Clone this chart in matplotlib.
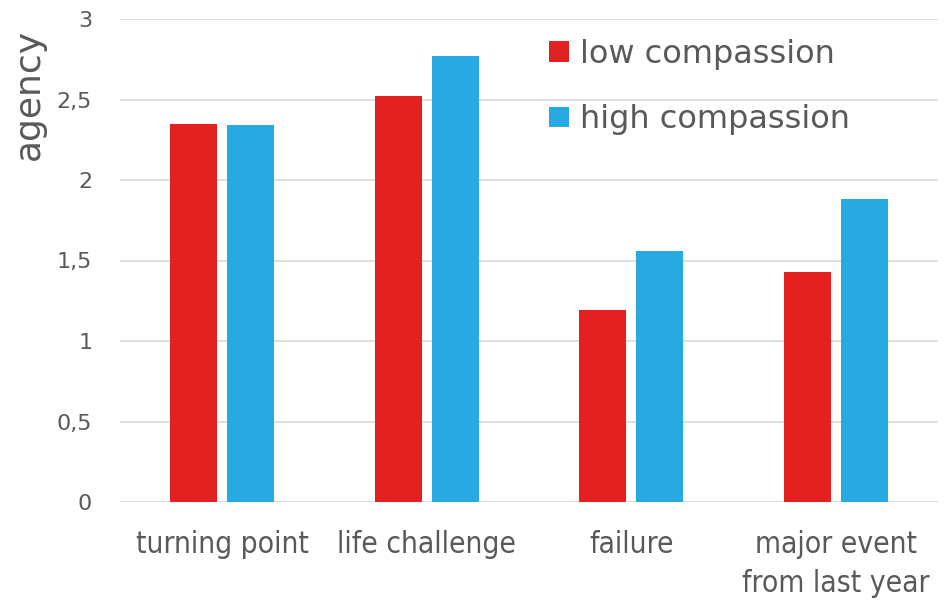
import numpy as np
import matplotlib
matplotlib.use("Agg")
import matplotlib.pyplot as plt
from matplotlib.ticker import FuncFormatter

# data
categories = ["turning point", "life challenge", "failure", "major event\nfrom last year"]
low_compassion = [2.35, 2.52, 1.19, 1.43]
high_compassion = [2.34, 2.77, 1.56, 1.88]
series_names = ["low compassion", "high compassion"]

RED = "#E32120"
BLUE = "#27A9E1"
TEXT = "#595959"
GRID = "#D9D9D9"

fig = plt.figure(figsize=(9.45, 6.04), dpi=100)
ax = fig.add_axes([120 / 945, 1 - 502 / 604, 818 / 945, 483 / 604])

x = np.arange(len(categories))
w = 0.23
ax.bar(x - 0.14, low_compassion, w, color=RED, label=series_names[0], zorder=3)
ax.bar(x + 0.14, high_compassion, w, color=BLUE, label=series_names[1], zorder=3)

ax.set_xlim(-0.5, len(categories) - 0.5)
ax.set_ylim(0, 3)
ax.set_yticks(np.arange(0, 3.01, 0.5))
ax.yaxis.set_major_formatter(FuncFormatter(lambda v, p: f"{v:g}".replace(".", ",")))
ax.grid(axis="y", color=GRID, linewidth=1.2, zorder=0)
for s in ax.spines.values():
    s.set_visible(False)
ax.tick_params(length=0)
ax.tick_params(axis="y", labelsize=16, labelcolor=TEXT, pad=20)

ax.set_xticks(x)
ax.set_xticklabels(categories, fontsize=21.5, color=TEXT, linespacing=1.45)
ax.tick_params(axis="x", pad=20)
for lab in ax.get_xticklabels():
    lab.set_fontstretch("condensed")
    lab.set_verticalalignment("top")

fig.text(29 / 945, 1 - 94 / 604, "agency", rotation=90, fontsize=26,
         color=TEXT, ha="center", va="center")

leg = fig.legend(loc="upper left", bbox_to_anchor=(520 / 945, 1 - 10 / 604),
                 frameon=False, fontsize=23, labelcolor=TEXT,
                 handlelength=0.62, handleheight=0.62, handletextpad=0.35,
                 labelspacing=1.08)

fig.savefig("out.png", dpi=100)
